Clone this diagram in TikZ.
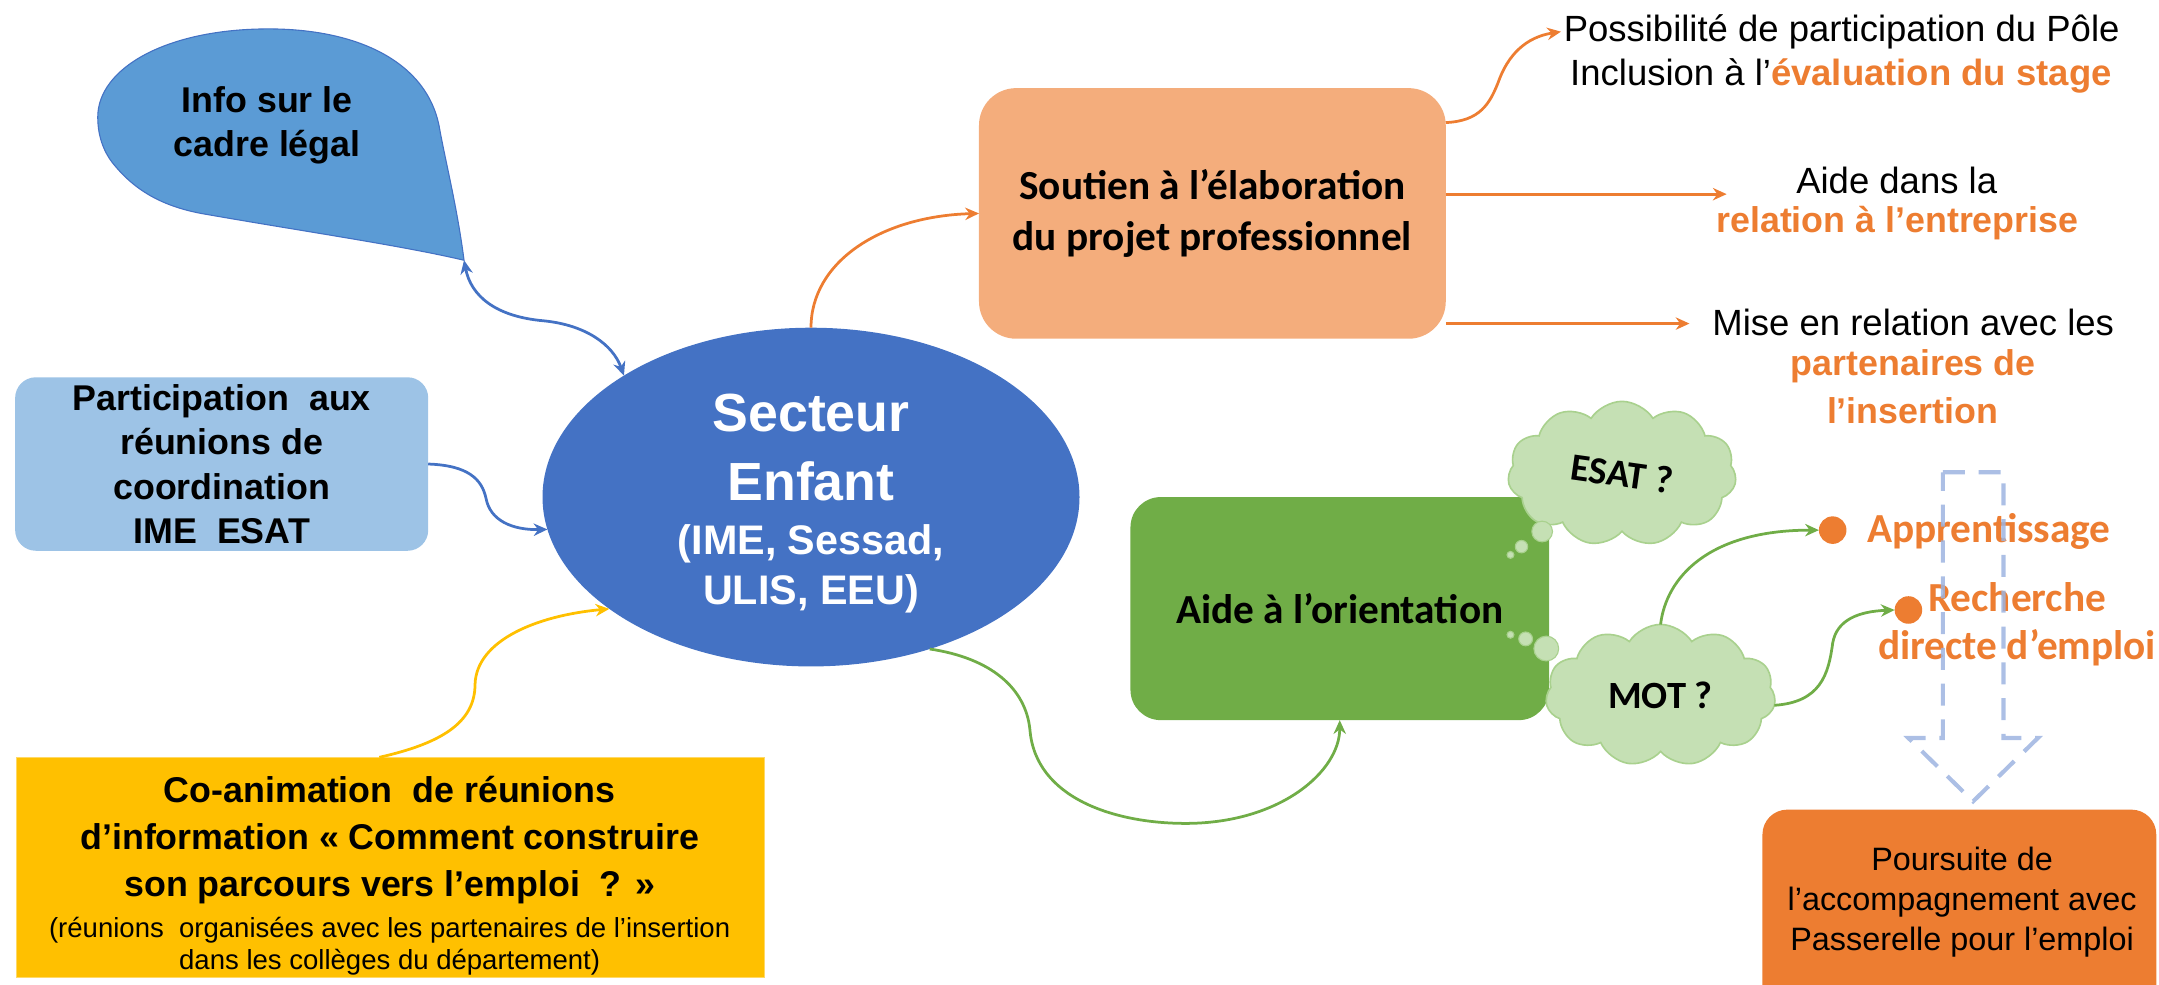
\documentclass[tikz,border=0pt]{standalone}
\usepackage{fontspec}
\setmainfont{Liberation Sans}
\newfontfamily\calib{Carlito}
\usetikzlibrary{shapes.geometric,shapes.symbols,arrows.meta,calc}
\definecolor{cblue}{HTML}{4472C4}
\definecolor{clight}{HTML}{9DC3E6}
\definecolor{ccall}{HTML}{5B9BD5}
\definecolor{cyel}{HTML}{FFC000}
\definecolor{cyelb}{HTML}{FFD966}
\definecolor{corg}{HTML}{ED7D31}
\definecolor{corgl}{HTML}{F4AD7C}
\definecolor{cgrn}{HTML}{70AD47}
\definecolor{cgrnl}{HTML}{C5E0B4}
\definecolor{cgrnb}{HTML}{A9D18E}
\definecolor{cdash}{HTML}{9DB4E0}
\begin{document}
\begin{tikzpicture}[x=1pt,y=-1pt,
  every node/.style={inner sep=0pt, outer sep=0pt},
  conn/.style={line width=2pt, -{Stealth[length=10pt,width=9pt]}},
  bconn/.style={conn, draw=cblue},
  oconn/.style={conn, draw=corg},
  gconn/.style={conn, draw=cgrn},
  yconn/.style={conn, draw=cyel},
  arialb/.style={font=\bfseries\fontsize{26}{32.3}\selectfont, align=center},
  rtext/.style={font=\fontsize{26.5}{31}\selectfont, inner sep=2pt},
  rbold/.style={font=\bfseries\fontsize{26}{31}\selectfont, text=corg, inner sep=2pt},
  calbold/.style={font=\calib\bfseries\fontsize{30}{37}\selectfont, align=center},
  cloudbox/.style={cloud, cloud puffs=11, cloud puff arc=115, aspect=1.6, fill=cgrnl, draw=cgrnb, line width=1.2pt, font=\calib\bfseries\fontsize{28}{32}\selectfont},
  dot/.style={circle, fill=corg}
]
\useasboundingbox (0,0) rectangle (1568,715);
\clip (0,0) rectangle (1568,715);

% callout
\path[fill=ccall, draw=cblue, line width=0.8pt] (337,189) .. controls (332,150) and (323,115) .. (319,92) .. controls (310,45) and (260,21) .. (195,21) .. controls (120,21) and (71,50) .. (71,85) .. controls (71,100) and (76,112) .. (84,121) .. controls (100,140) and (120,150) .. (146,155) .. controls (220,168) and (290,178) .. (337,189) -- cycle;
\coordinate (tip) at (337,189);
\node[arialb] (info) at (194,91) {Info sur le\\cadre légal};

% participation
\node[fill=clight, rounded corners=15pt, minimum width=300pt, minimum height=126pt, arialb] (part) at (161,337) {Participation\ \ aux\\réunions de\\coordination\\IME\ \ ESAT};

% central ellipse
\node[ellipse, fill=cblue, minimum width=390pt, minimum height=246pt, text=white, align=center, font=\bfseries\fontsize{39}{50}\selectfont] (sect) at (589,361) {\rule{0pt}{37pt}Secteur\\Enfant\\[-11pt]{\fontsize{30}{36}\selectfont (IME, Sessad,}\\[-13.5pt]{\fontsize{30}{36}\selectfont ULIS, EEU)}};

% yellow box
\node[fill=cyel, draw=cyelb, line width=1pt, minimum width=543pt, minimum height=160pt] (yel) at (283.5,630) {};
\node[align=center, font=\bfseries\fontsize{26}{34}\selectfont] (yeltxt) at (283,636) {Co-animation\ \ de réunions\\d’information « Comment construire\\son parcours vers l’emploi\ \ ? »\\[-4pt]{\mdseries\fontsize{20}{24}\selectfont (réunions\ \ organisées avec les partenaires de l’insertion}\\[-11pt]{\mdseries\fontsize{20}{24}\selectfont dans les collèges du département)}};

% soutien
\node[fill=corgl, rounded corners=27pt, minimum width=339pt, minimum height=182pt, calbold] (sout) at (880.5,155) {Soutien à l’élaboration\\du projet professionnel};

% aide
\node[fill=cgrn, rounded corners=22pt, minimum width=304pt, minimum height=162pt, calbold] (aide) at (973,442) {Aide à l’orientation};

% clouds
\node[cloudbox, minimum width=166pt, minimum height=105pt] (esat) at (1178,344) {\rotatebox{-8}{ESAT ?}};
\node[cloudbox, minimum width=167pt, minimum height=103pt] (mot) at (1206,505) {MOT ?};
\filldraw[fill=cgrnl, draw=cgrnb, line width=0.8pt] (1120,386) circle (7.5pt) (1105,397) circle (4.5pt) (1097,403) circle (2.5pt);
\filldraw[fill=cgrnl, draw=cgrnb, line width=0.8pt] (1123,471) circle (9pt) (1108,464) circle (5pt) (1097,461) circle (2.5pt);

% right texts
\node[rtext] (pa) at (1337.5,23) {Possibilité de participation du Pôle};
\node[rtext] (pb) at (1337,55) {Inclusion à l’{\bfseries\color{corg}évaluation du stage}};
\node[rtext] (ad1) at (1377.5,131) {Aide dans la};
\node[rbold] (ad2) at (1378,162) {relation à l’entreprise};
\node[rtext] (mi1) at (1389.5,234) {Mise en relation avec les};
\node[rbold] (mi2) at (1389.5,266) {partenaires de};
\node[rbold] (mi3) at (1389,298) {l’insertion};

% bullets
\node[dot, minimum size=20pt] (d1) at (1331,385) {};
\node[font=\calib\bfseries\fontsize{30}{35}\selectfont, text=corg, anchor=west] (app) at (1356,386) {Apprentissage};
\node[dot, minimum size=20pt] (d2) at (1386,443) {};
\node[font=\calib\bfseries\fontsize{30}{35}\selectfont, text=corg, align=center] (rech) at (1465,453.5) {Recherche\\directe d’emploi};

% poursuite
\node[fill=corg, rounded corners=18pt, minimum width=286pt, minimum height=150pt, anchor=north west] (pours) at (1280,588) {};
\node[font=\fontsize{23.5}{29}\selectfont, align=center] (pourst) at (1425,655) {Poursuite de\\l’accompagnement avec\\Passerelle pour l’emploi};

% connectors
\draw[bconn, {Stealth[length=10pt,width=9pt]}-{Stealth[length=10pt,width=9pt]}] (tip) .. controls (342,215) and (360,230) .. (395,233) .. controls (425,236) and (445,250) .. (sect.147);
\draw[bconn] (part.east) .. controls (340,338) and (350,348) .. (353,362) .. controls (356,378) and (372,385) .. (sect.187);
\draw[yconn] ($(yel.north)+(-8,0)$) .. controls (320,540) and (345,525) .. (345,497) .. controls (346,465) and (390,447) .. (sect.209);
\draw[oconn] (sect.90) .. controls (589,190) and (640,157) .. (sout.west);
\draw[gconn] (sect.-52) .. controls (720,478) and (745,500) .. (748,530) .. controls (752,580) and (810,598) .. (861,598) .. controls (930,598) and (973,560) .. (aide.south);

\coordinate (bend) at (1254,141);
\coordinate (cend) at (1227,235);
\draw[oconn] ($(sout.north east)+(0,25)$) .. controls (1075,88) and (1082,75) .. (1088,60) .. controls (1095,40) and (1108,27) .. (pa.west);
\draw[oconn] (sout.east |- bend) -- (bend);
\draw[oconn] (sout.east |- cend) -- (cend);

\draw[gconn] (mot.north) .. controls (1210,420) and (1240,385) .. (d1.west);
\draw[gconn] (mot.-5) .. controls (1322,510) and (1328,490) .. (1331,467) .. controls (1334,450) and (1350,444) .. (d2.west);

% dashed block arrow
\draw[cdash, line width=3pt, dash pattern=on 16pt off 10pt, opacity=0.85] (1411,343) -- (1455,343) -- (1455,536) -- (1480,536) -- (1433,582) -- (1386,536) -- (1411,536) -- cycle;
\end{tikzpicture}
\end{document}
